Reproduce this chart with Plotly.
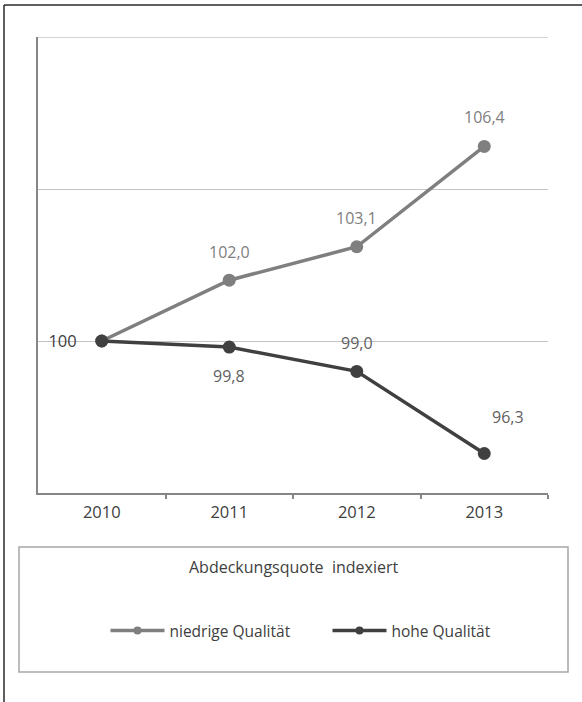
import plotly.graph_objects as go

# Coverage ratio, indexed to 2010 = 100
years = ["2010", "2011", "2012", "2013"]
niedrige = [100.0, 102.0, 103.1, 106.4]
hohe = [100.0, 99.8, 99.0, 96.3]
series_names = ["niedrige Qualität", "hohe Qualität"]
legend_title = "Abdeckungsquote  indexiert"
y_tickvals = [95, 100, 105, 110]
y_ticktext = ["", "100", "", ""]

col_low = "#7f7f7f"
col_high = "#404040"
font_family = "Open Sans, Noto Sans, DejaVu Sans, sans-serif"

W, H = 582, 702
L, R, T, B = 38, 34, 37, 209
pw, ph = W - L - R, H - T - B


def px(x):
    return (x - L) / pw


def py(y):
    return (H - B - y) / ph


def de(v):
    return f"{v:.1f}".replace(".", ",")


fig = go.Figure()

fig.add_trace(go.Scatter(
    x=years, y=niedrige, mode="lines+markers", name=series_names[0],
    line=dict(color=col_low, width=3.5), marker=dict(size=13, color=col_low),
    showlegend=False,
))
fig.add_trace(go.Scatter(
    x=years, y=hohe, mode="lines+markers", name=series_names[1],
    line=dict(color=col_high, width=3.5), marker=dict(size=13, color=col_high),
    showlegend=False,
))

# legend entries with smaller markers
for name, col in zip(series_names, [col_low, col_high]):
    fig.add_trace(go.Scatter(
        x=[None], y=[None], mode="lines+markers", name=name,
        line=dict(color=col, width=3.5), marker=dict(size=8, color=col),
    ))

# value labels (2010 is shown on the axis)
low_offsets = [None, (0, 28), (0, 29), (0, 29)]
high_offsets = [None, (0, -29), (0, 28), (24, 36)]
annotations = []
for vals, offs, col in [(niedrige, low_offsets, "#808080"), (hohe, high_offsets, "#5f5f5f")]:
    for i, (v, off) in enumerate(zip(vals, offs)):
        if off is None:
            continue
        annotations.append(dict(
            x=i, y=v, xref="x", yref="y", text=de(v), showarrow=False,
            xanchor="center", yanchor="middle", xshift=off[0], yshift=off[1],
            font=dict(size=16, color=col, family=font_family),
        ))

annotations.append(dict(
    x=px(293.5), y=py(567), xref="paper", yref="paper", text=legend_title,
    showarrow=False, xanchor="center", yanchor="middle",
    font=dict(size=16, color="#404040", family=font_family),
))

shapes = [
    # top gridline
    dict(type="line", xref="paper", yref="y", x0=0, x1=1, y0=y_tickvals[-1], y1=y_tickvals[-1],
         line=dict(color="#c4c4c4", width=1.6), layer="below"),
    # outer frame (top and left)
    dict(type="line", xref="paper", yref="paper", x0=px(4), x1=px(582), y0=py(5), y1=py(5),
         line=dict(color="#2a2a2a", width=1.5)),
    dict(type="line", xref="paper", yref="paper", x0=px(4), x1=px(4), y0=py(5), y1=py(702),
         line=dict(color="#2a2a2a", width=1.5)),
    # legend box
    dict(type="rect", xref="paper", yref="paper", x0=px(19), x1=px(568), y0=py(547), y1=py(672),
         line=dict(color="#a6a6a6", width=1.5), fillcolor="rgba(0,0,0,0)"),
]

fig.update_layout(
    width=W, height=H,
    margin=dict(l=L, r=R, t=T, b=B, pad=0),
    paper_bgcolor="white", plot_bgcolor="white",
    font=dict(family=font_family, color="#404040", size=16),
    annotations=annotations, shapes=shapes,
    legend=dict(
        orientation="h", x=px(105.5), y=py(631), xanchor="left", yanchor="middle",
        font=dict(size=15.5, color="#404040", family=font_family),
        itemwidth=54, entrywidth=153, entrywidthmode="pixels",
        bgcolor="rgba(0,0,0,0)", traceorder="normal",
    ),
)

fig.update_xaxes(
    type="category", categoryorder="array", categoryarray=years,
    range=[-0.5, 3.5],
    showline=True, linecolor="#868686", linewidth=1.5,
    ticks="outside", tickson="boundaries", ticklen=4, tickcolor="#868686", tickwidth=1.5,
    showgrid=False, tickfont=dict(size=16.5, color="#404040"),
    ticklabelstandoff=3, fixedrange=True,
)
fig.update_yaxes(
    range=[95, 110], tickvals=y_tickvals, ticktext=y_ticktext,
    showline=True, linecolor="#868686", linewidth=1.5,
    ticks="", showgrid=True, gridcolor="#c4c4c4", gridwidth=1.2,
    ticklabelposition="inside", ticklabelstandoff=11,
    tickfont=dict(size=16.5, color="#404040"),
    zeroline=False, fixedrange=True,
)

fig.write_html("out.html")
